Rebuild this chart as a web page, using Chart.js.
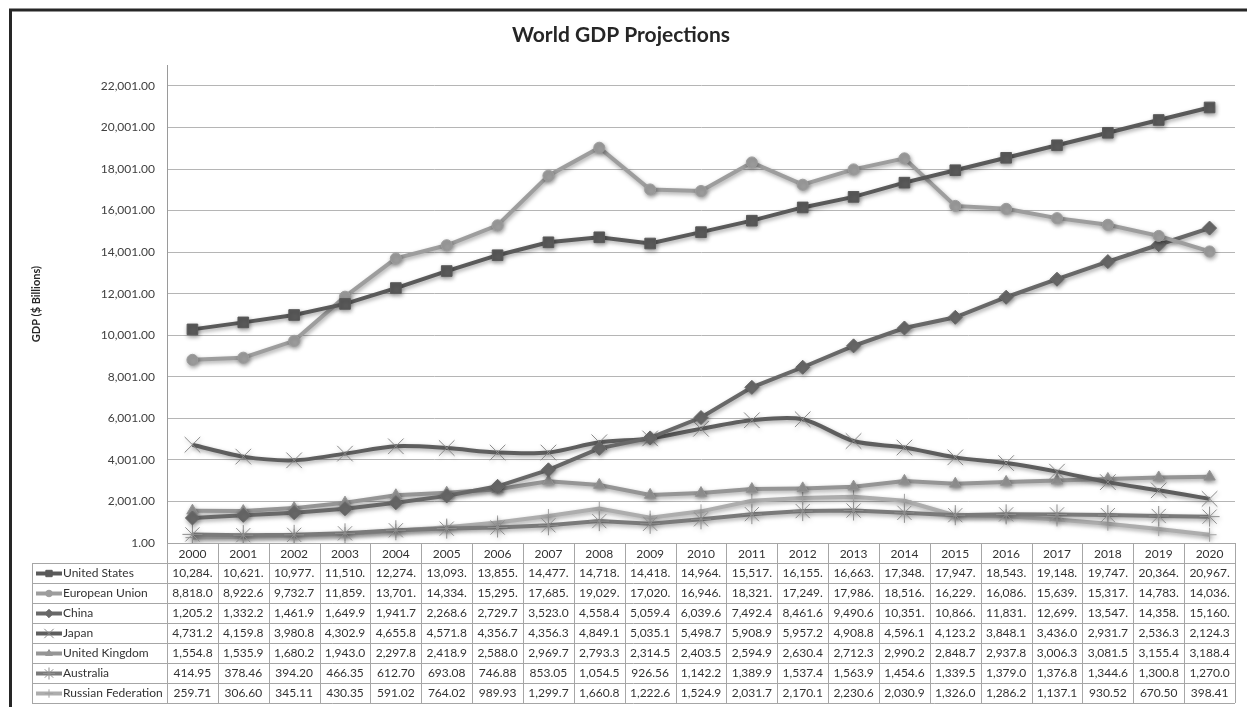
<!DOCTYPE html>
<html lang="en">
<head>
<meta charset="UTF-8" />
<title>World GDP Projections</title>
<script src="https://cdn.jsdelivr.net/npm/chart.js"></script>
<style>
  html, body { margin: 0; padding: 0; background: #fff; }
</style>
</head>
<body>
<canvas id="gdpChart" width="1247" height="707"></canvas>
<script>
// ---- data ----
const years = ["2000", "2001", "2002", "2003", "2004", "2005", "2006", "2007", "2008", "2009", "2010",
  "2011", "2012", "2013", "2014", "2015", "2016", "2017", "2018", "2019", "2020"];

const seriesNames = ["United States", "European Union", "China", "Japan", "United Kingdom", "Australia", "Russian Federation"];

const unitedStates = [10284, 10621, 10977, 11510, 12274, 13093, 13855, 14477, 14718, 14418, 14964,
  15517, 16155, 16663, 17348, 17947, 18543, 19148, 19747, 20364, 20967];
const europeanUnion = [8818.0, 8922.6, 9732.7, 11859, 13701, 14334, 15295, 17685, 19029, 17020, 16946,
  18321, 17249, 17986, 18516, 16229, 16086, 15639, 15317, 14783, 14036];
const china = [1205.2, 1332.2, 1461.9, 1649.9, 1941.7, 2268.6, 2729.7, 3523.0, 4558.4, 5059.4, 6039.6,
  7492.4, 8461.6, 9490.6, 10351, 10866, 11831, 12699, 13547, 14358, 15160];
const japan = [4731.2, 4159.8, 3980.8, 4302.9, 4655.8, 4571.8, 4356.7, 4356.3, 4849.1, 5035.1, 5498.7,
  5908.9, 5957.2, 4908.8, 4596.1, 4123.2, 3848.1, 3436.0, 2931.7, 2536.3, 2124.3];
const unitedKingdom = [1554.8, 1535.9, 1680.2, 1943.0, 2297.8, 2418.9, 2588.0, 2969.7, 2793.3, 2314.5, 2403.5,
  2594.9, 2630.4, 2712.3, 2990.2, 2848.7, 2937.8, 3006.3, 3081.5, 3155.4, 3188.4];
const australia = [414.95, 378.46, 394.20, 466.35, 612.70, 693.08, 746.88, 853.05, 1054.5, 926.56, 1142.2,
  1389.9, 1537.4, 1563.9, 1454.6, 1339.5, 1379.0, 1376.8, 1344.6, 1300.8, 1270.0];
const russia = [259.71, 306.60, 345.11, 430.35, 591.02, 764.02, 989.93, 1299.7, 1660.8, 1222.6, 1524.9,
  2031.7, 2170.1, 2230.6, 2030.9, 1326.0, 1286.2, 1137.1, 930.52, 670.50, 398.41];

const yTicks = [1, 2001, 4001, 6001, 8001, 10001, 12001, 14001, 16001, 18001, 20001, 22001];

const seriesValues = [unitedStates, europeanUnion, china, japan, unitedKingdom, australia, russia];

// ---- styles ----
const seriesStyles = [
  { color: "#5a5a5a", mark: "#5a5a5a", pointStyle: "rect", radius: 7.5, markWidth: 1, tension: 0 },
  { color: "#9d9d9d", mark: "#9d9d9d", pointStyle: "circle", radius: 5.5, markWidth: 1, tension: 0 },
  { color: "#686868", mark: "#686868", pointStyle: "rectRot", radius: 7, markWidth: 1, tension: 0 },
  { color: "#5e5e5e", mark: "#8a8a8a", pointStyle: "crossRot", radius: 11, markWidth: 1, tension: 0.3 },
  { color: "#959595", mark: "#959595", pointStyle: "triangle", radius: 6.5, markWidth: 1, tension: 0 },
  { color: "#7a7a7a", mark: "#8f8f8f", pointStyle: "star", radius: 10, markWidth: 1, tension: 0 },
  { color: "#adadad", mark: "#a3a3a3", pointStyle: "cross", radius: 7, markWidth: 1, tension: 0 }
];

const FONT = "Lato, 'Open Sans', sans-serif";

function fmtTick(v) {
  return v.toLocaleString("en-US", { minimumFractionDigits: 2, maximumFractionDigits: 2 });
}
// Excel cuts long numbers to fit the cell
function fmtCell(v) {
  return fmtTick(v).slice(0, 7);
}

const datasets = seriesNames.map((name, i) => {
  const s = seriesStyles[i];
  return {
    label: name,
    data: seriesValues[i],
    borderColor: s.color,
    backgroundColor: s.color,
    borderWidth: 4,
    tension: s.tension,
    pointStyle: s.pointStyle,
    pointRadius: s.radius,
    pointHoverRadius: s.radius,
    pointBackgroundColor: s.mark,
    pointBorderColor: s.mark,
    pointBorderWidth: s.markWidth
  };
});

const framePlugin = {
  id: "frame",
  beforeDraw(chart) {
    const ctx = chart.ctx;
    ctx.save();
    ctx.fillStyle = "#fff";
    ctx.fillRect(0, 0, chart.width, chart.height);
    ctx.strokeStyle = "#262626";
    ctx.lineWidth = 3;
    ctx.strokeRect(10.5, 10, chart.width + 20, chart.height + 20);
    ctx.restore();
  }
};

const shadowPlugin = {
  id: "shadow",
  beforeDatasetsDraw(chart) {
    const ctx = chart.ctx;
    ctx.save();
    ctx.shadowColor = "rgba(0,0,0,0.35)";
    ctx.shadowBlur = 4;
    ctx.shadowOffsetX = 1;
    ctx.shadowOffsetY = 2;
  },
  afterDatasetsDraw(chart) {
    chart.ctx.restore();
  }
};

const dataTablePlugin = {
  id: "dataTable",
  afterDraw(chart) {
    const { ctx } = chart;
    const x = chart.scales.x;
    const colW = x.width / years.length;
    const rowH = 20;
    const top = x.top;
    const labelLeft = 32;
    const rows = seriesNames.length;
    const bottom = top + rowH * (rows + 1);

    ctx.save();
    ctx.strokeStyle = "#a6a6a6";
    ctx.lineWidth = 1;
    ctx.beginPath();
    for (let i = 0; i <= years.length; i++) {
      const px = Math.round(x.left + i * colW) + 0.5;
      ctx.moveTo(px, top);
      ctx.lineTo(px, bottom);
    }
    ctx.moveTo(labelLeft + 0.5, top + rowH);
    ctx.lineTo(labelLeft + 0.5, bottom);
    for (let r = 1; r <= rows + 1; r++) {
      const py = Math.round(top + r * rowH) + 0.5;
      ctx.moveTo(labelLeft, py);
      ctx.lineTo(x.right, py);
    }
    ctx.stroke();

    ctx.font = "12px " + FONT;
    ctx.textBaseline = "middle";
    for (let r = 0; r < rows; r++) {
      const cy = top + rowH * (r + 1) + rowH / 2 + 0.5;
      const s = seriesStyles[r];
      // legend key
      ctx.strokeStyle = s.color;
      ctx.lineWidth = 4;
      ctx.beginPath();
      ctx.moveTo(36, cy);
      ctx.lineTo(62, cy);
      ctx.stroke();
      ctx.fillStyle = s.mark;
      ctx.strokeStyle = s.mark;
      ctx.lineWidth = 1;
      Chart.helpers.drawPoint(ctx, { pointStyle: s.pointStyle, radius: s.radius * 0.6, borderWidth: 1, rotation: 0 }, 49, cy);
      ctx.fillStyle = "#333";
      ctx.textAlign = "left";
      ctx.fillText(seriesNames[r], 63, cy);
      ctx.textAlign = "center";
      seriesValues[r].forEach((v, i) => {
        ctx.fillText(fmtCell(v), x.getPixelForValue(i), cy);
      });
    }
    ctx.restore();
  }
};

new Chart(document.getElementById("gdpChart"), {
  type: "line",
  data: { labels: years, datasets: datasets },
  options: {
    responsive: false,
    animation: false,
    layout: { padding: { left: 0, right: 5, top: 0, bottom: 4 } },
    plugins: {
      legend: { display: false },
      tooltip: { enabled: false },
      title: {
        display: true,
        text: "World GDP Projections",
        color: "#262626",
        font: { family: FONT, size: 21, weight: "bold" },
        padding: { top: 23, bottom: 17 }
      }
    },
    scales: {
      x: {
        offset: true,
        grid: { display: false, drawTicks: false },
        border: { display: true, color: "#a6a6a6" },
        ticks: { color: "#333", font: { family: FONT, size: 12 }, padding: 4, maxRotation: 0, autoSkip: false },
        afterFit(scale) { scale.height = 160; }
      },
      y: {
        min: 1,
        max: 23001,
        afterBuildTicks(scale) { scale.ticks = yTicks.map(v => ({ value: v })); },
        grid: { color: "#b5b5b5", drawTicks: false },
        border: { display: true, color: "#9a9a9a" },
        ticks: { color: "#404040", font: { family: FONT, size: 12 }, padding: 12, callback: v => fmtTick(v) },
        title: {
          display: true,
          text: "GDP ($ Billions)",
          color: "#262626",
          font: { family: FONT, size: 11, weight: "bold" },
          padding: { top: 30, bottom: 0 }
        },
        afterFit(scale) { scale.width = 167; }
      }
    }
  },
  plugins: [framePlugin, shadowPlugin, dataTablePlugin]
});
</script>
</body>
</html>
